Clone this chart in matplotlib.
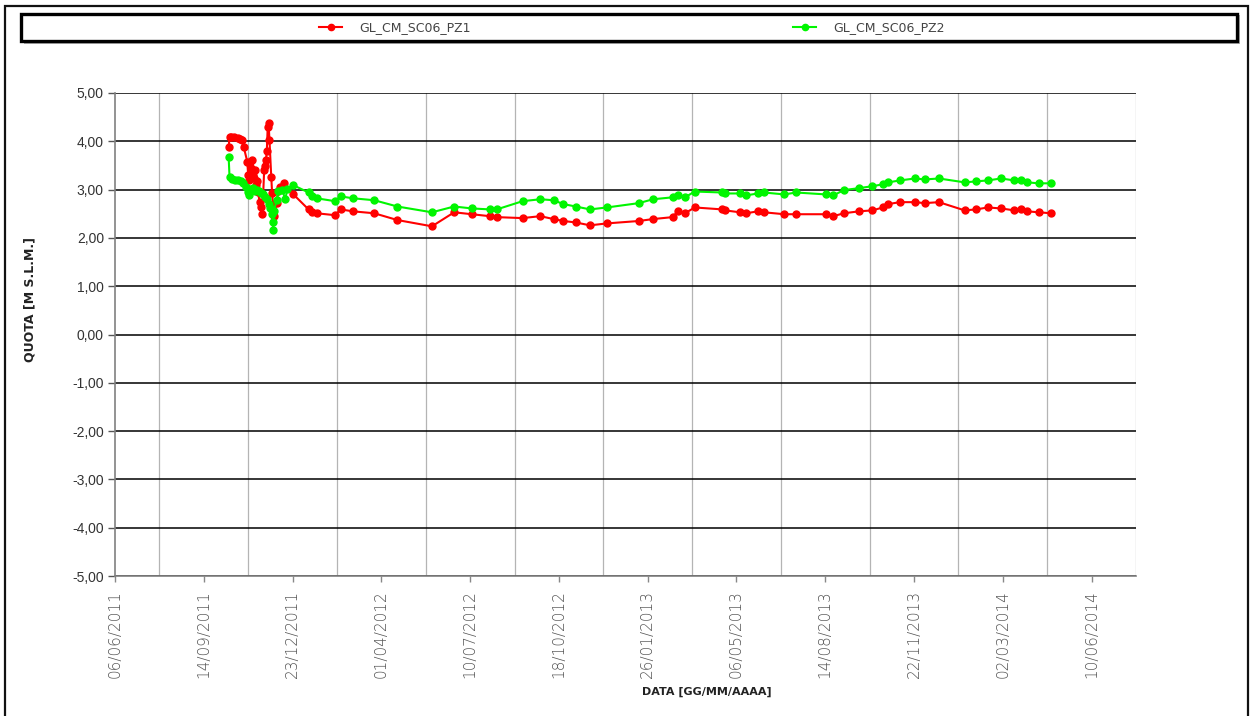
import pandas as pd
import matplotlib
matplotlib.use("Agg")
import matplotlib.pyplot as plt
import matplotlib.dates as mdates
from matplotlib.patches import Rectangle
from matplotlib.ticker import FixedLocator, FuncFormatter

# early readings (Oct-Dec 2011), logged more often for PZ1
early_dates_pz1 = ["12/10/2011", "13/10/2011", "15/10/2011", "18/10/2011", "22/10/2011", "25/10/2011",
                   "27/10/2011", "29/10/2011", "02/11/2011", "03/11/2011", "04/11/2011", "05/11/2011",
                   "06/11/2011", "07/11/2011", "08/11/2011", "09/11/2011", "11/11/2011", "12/11/2011",
                   "13/11/2011", "14/11/2011", "16/11/2011", "17/11/2011", "19/11/2011", "21/11/2011",
                   "22/11/2011", "23/11/2011", "24/11/2011", "25/11/2011", "26/11/2011", "27/11/2011",
                   "29/11/2011", "30/11/2011", "01/12/2011", "02/12/2011", "05/12/2011", "07/12/2011",
                   "09/12/2011", "13/12/2011"]
early_pz1 = [3.88, 4.08, 4.08, 4.08, 4.06, 4.05, 4.02, 3.88, 3.58, 3.30, 3.20, 3.58,
             3.45, 3.62, 3.30, 3.25, 3.40, 3.10, 3.18, 2.95, 2.74, 2.64, 2.50, 3.40,
             3.48, 3.62, 3.80, 4.30, 4.37, 4.02, 3.26, 2.92, 2.70, 2.45, 2.72, 2.98,
             3.05, 3.13]

early_dates_pz2 = ["12/10/2011", "13/10/2011", "16/10/2011", "19/10/2011", "23/10/2011", "26/10/2011",
                   "28/10/2011", "01/11/2011", "03/11/2011", "04/11/2011", "06/11/2011", "08/11/2011",
                   "11/11/2011", "13/11/2011", "15/11/2011", "17/11/2011", "20/11/2011", "22/11/2011",
                   "24/11/2011", "26/11/2011", "28/11/2011", "30/11/2011", "01/12/2011", "01/12/2011",
                   "02/12/2011", "05/12/2011", "07/12/2011", "11/12/2011", "15/12/2011", "17/12/2011"]
early_pz2 = [3.68, 3.26, 3.22, 3.20, 3.20, 3.18, 3.13, 3.05, 2.95, 2.88, 3.02, 3.03,
             2.98, 3.00, 2.98, 2.93, 2.90, 2.85, 2.80, 2.70, 2.62, 2.50, 2.33, 2.16,
             2.55, 2.78, 2.98, 3.00, 2.80, 3.02]

# common survey dates from late Dec 2011 onwards
dates = ["24/12/2011", "10/01/2012", "14/01/2012", "19/01/2012", "09/02/2012", "15/02/2012",
         "29/02/2012", "24/03/2012", "19/04/2012", "28/05/2012", "22/06/2012", "12/07/2012",
         "01/08/2012", "09/08/2012", "07/09/2012", "27/09/2012", "12/10/2012", "23/10/2012",
         "06/11/2012", "22/11/2012", "11/12/2012", "16/01/2013", "01/02/2013", "23/02/2013",
         "01/03/2013", "09/03/2013", "20/03/2013", "20/04/2013", "23/04/2013", "10/05/2013",
         "17/05/2013", "30/05/2013", "06/06/2013", "29/06/2013", "12/07/2013", "15/08/2013",
         "23/08/2013", "04/09/2013", "21/09/2013", "06/10/2013", "18/10/2013", "24/10/2013",
         "06/11/2013", "23/11/2013", "04/12/2013", "20/12/2013", "18/01/2014", "31/01/2014",
         "13/02/2014", "28/02/2014", "15/03/2014", "23/03/2014", "29/03/2014", "12/04/2014",
         "25/04/2014"]
pz1 = [2.90, 2.59, 2.53, 2.51, 2.47, 2.59, 2.55, 2.51, 2.37, 2.24, 2.53, 2.49,
       2.45, 2.43, 2.41, 2.45, 2.39, 2.35, 2.32, 2.26, 2.30, 2.35, 2.39, 2.43,
       2.55, 2.51, 2.63, 2.59, 2.57, 2.53, 2.51, 2.55, 2.53, 2.49, 2.49, 2.49,
       2.45, 2.51, 2.55, 2.57, 2.63, 2.70, 2.74, 2.74, 2.72, 2.74, 2.57, 2.59,
       2.63, 2.61, 2.57, 2.59, 2.55, 2.53, 2.51]
pz2 = [3.09, 2.94, 2.86, 2.82, 2.76, 2.86, 2.82, 2.78, 2.65, 2.53, 2.65, 2.61,
       2.59, 2.59, 2.76, 2.80, 2.78, 2.70, 2.65, 2.59, 2.63, 2.72, 2.80, 2.84,
       2.88, 2.84, 2.96, 2.94, 2.92, 2.92, 2.88, 2.92, 2.94, 2.90, 2.94, 2.90,
       2.88, 2.99, 3.03, 3.07, 3.11, 3.15, 3.19, 3.23, 3.21, 3.23, 3.15, 3.17,
       3.19, 3.23, 3.19, 3.19, 3.15, 3.13, 3.13]

series_names = ["GL_CM_SC06_PZ1", "GL_CM_SC06_PZ2"]
colors = ["#ff0000", "#00f500"]


def to_dt(lst):
    return pd.to_datetime(lst, format="%d/%m/%Y")


x1 = to_dt(early_dates_pz1 + dates)
y1 = early_pz1 + pz1
x2 = to_dt(early_dates_pz2 + dates)
y2 = early_pz2 + pz2

fig = plt.figure(figsize=(12.56, 7.16), dpi=100)
W, H = 1256, 716
ax = fig.add_axes([115 / W, 1 - 576 / H, (1136 - 115) / W, (576 - 93) / H])

ax.plot(x1, y1, color=colors[0], lw=1.5, marker="o", ms=5, mec=colors[0], label=series_names[0], zorder=3)
ax.plot(x2, y2, color=colors[1], lw=1.5, marker="o", ms=5, mec=colors[1], label=series_names[1], zorder=4)

start = pd.Timestamp("2011-06-06")
major = pd.date_range(start, periods=12, freq="100D")
minor = pd.date_range(start, periods=24, freq="50D")
ax.set_xlim(mdates.date2num(start), mdates.date2num(start + pd.Timedelta(days=1150)))
ax.xaxis.set_major_locator(FixedLocator(mdates.date2num(major)))
ax.xaxis.set_minor_locator(FixedLocator(mdates.date2num(minor)))
ax.xaxis.set_major_formatter(mdates.DateFormatter("%d/%m/%Y"))
ax.set_ylim(-5, 5)
ax.set_yticks(range(-5, 6))
ax.yaxis.set_major_formatter(FuncFormatter(lambda v, p: f"{v:.2f}".replace(".", ",")))

ax.grid(True, axis="x", which="minor", color="#b4b4b4", lw=0.9)
ax.grid(True, axis="y", which="major", color="black", lw=1.1)
ax.set_axisbelow(True)
for s in ["top", "right"]:
    ax.spines[s].set_visible(False)
for s in ["left", "bottom"]:
    ax.spines[s].set_color("#808080")
    ax.spines[s].set_linewidth(1.2)

ax.tick_params(axis="y", length=5, width=1, color="#555555", labelsize=10, labelcolor="#333333", pad=3)
ax.tick_params(axis="x", which="major", length=4, width=1, color="#888888", labelsize=11,
               labelcolor="#555555", pad=6, rotation=90)
ax.tick_params(axis="x", which="minor", length=0)
for lbl in ax.get_yticklabels():
    lbl.set_family("Liberation Sans")
for lbl in ax.get_xticklabels():
    lbl.set_va("top")
    lbl.set_fontweight("light")

fig.text(30 / W, 1 - 300 / H, "QUOTA [M S.L.M.]", rotation=90, ha="center", va="center",
         fontsize=9, fontweight="bold", color="#222222")
fig.text(707 / W, 1 - 692 / H, "DATA [GG/MM/AAAA]", ha="center", va="center",
         fontsize=8, fontweight="bold", color="#222222")

# outer frame
fig.patches.append(Rectangle((5 / W, -0.05), (1248 - 5) / W, 1.05 - 6 / H, transform=fig.transFigure,
                             fill=False, ec="#111111", lw=1.6))
# legend box with shadow
fig.patches.append(Rectangle((24 / W, 1 - 44 / H), (1240 - 24) / W, 29 / H, transform=fig.transFigure,
                             fc="#b0b0b0", ec="none"))
fig.patches.append(Rectangle((21 / W, 1 - 41 / H), (1237 - 21) / W, 27 / H, transform=fig.transFigure,
                             fc="white", ec="black", lw=2.4))
leg = fig.legend(loc="center", bbox_to_anchor=(632 / W, 1 - 28 / H), ncol=2, frameon=False,
                 fontsize=9, handlelength=1.85, handletextpad=1.35, columnspacing=25.8,
                 labelcolor="#444444", markerscale=0.9)

fig.savefig("out.png", dpi=100)
